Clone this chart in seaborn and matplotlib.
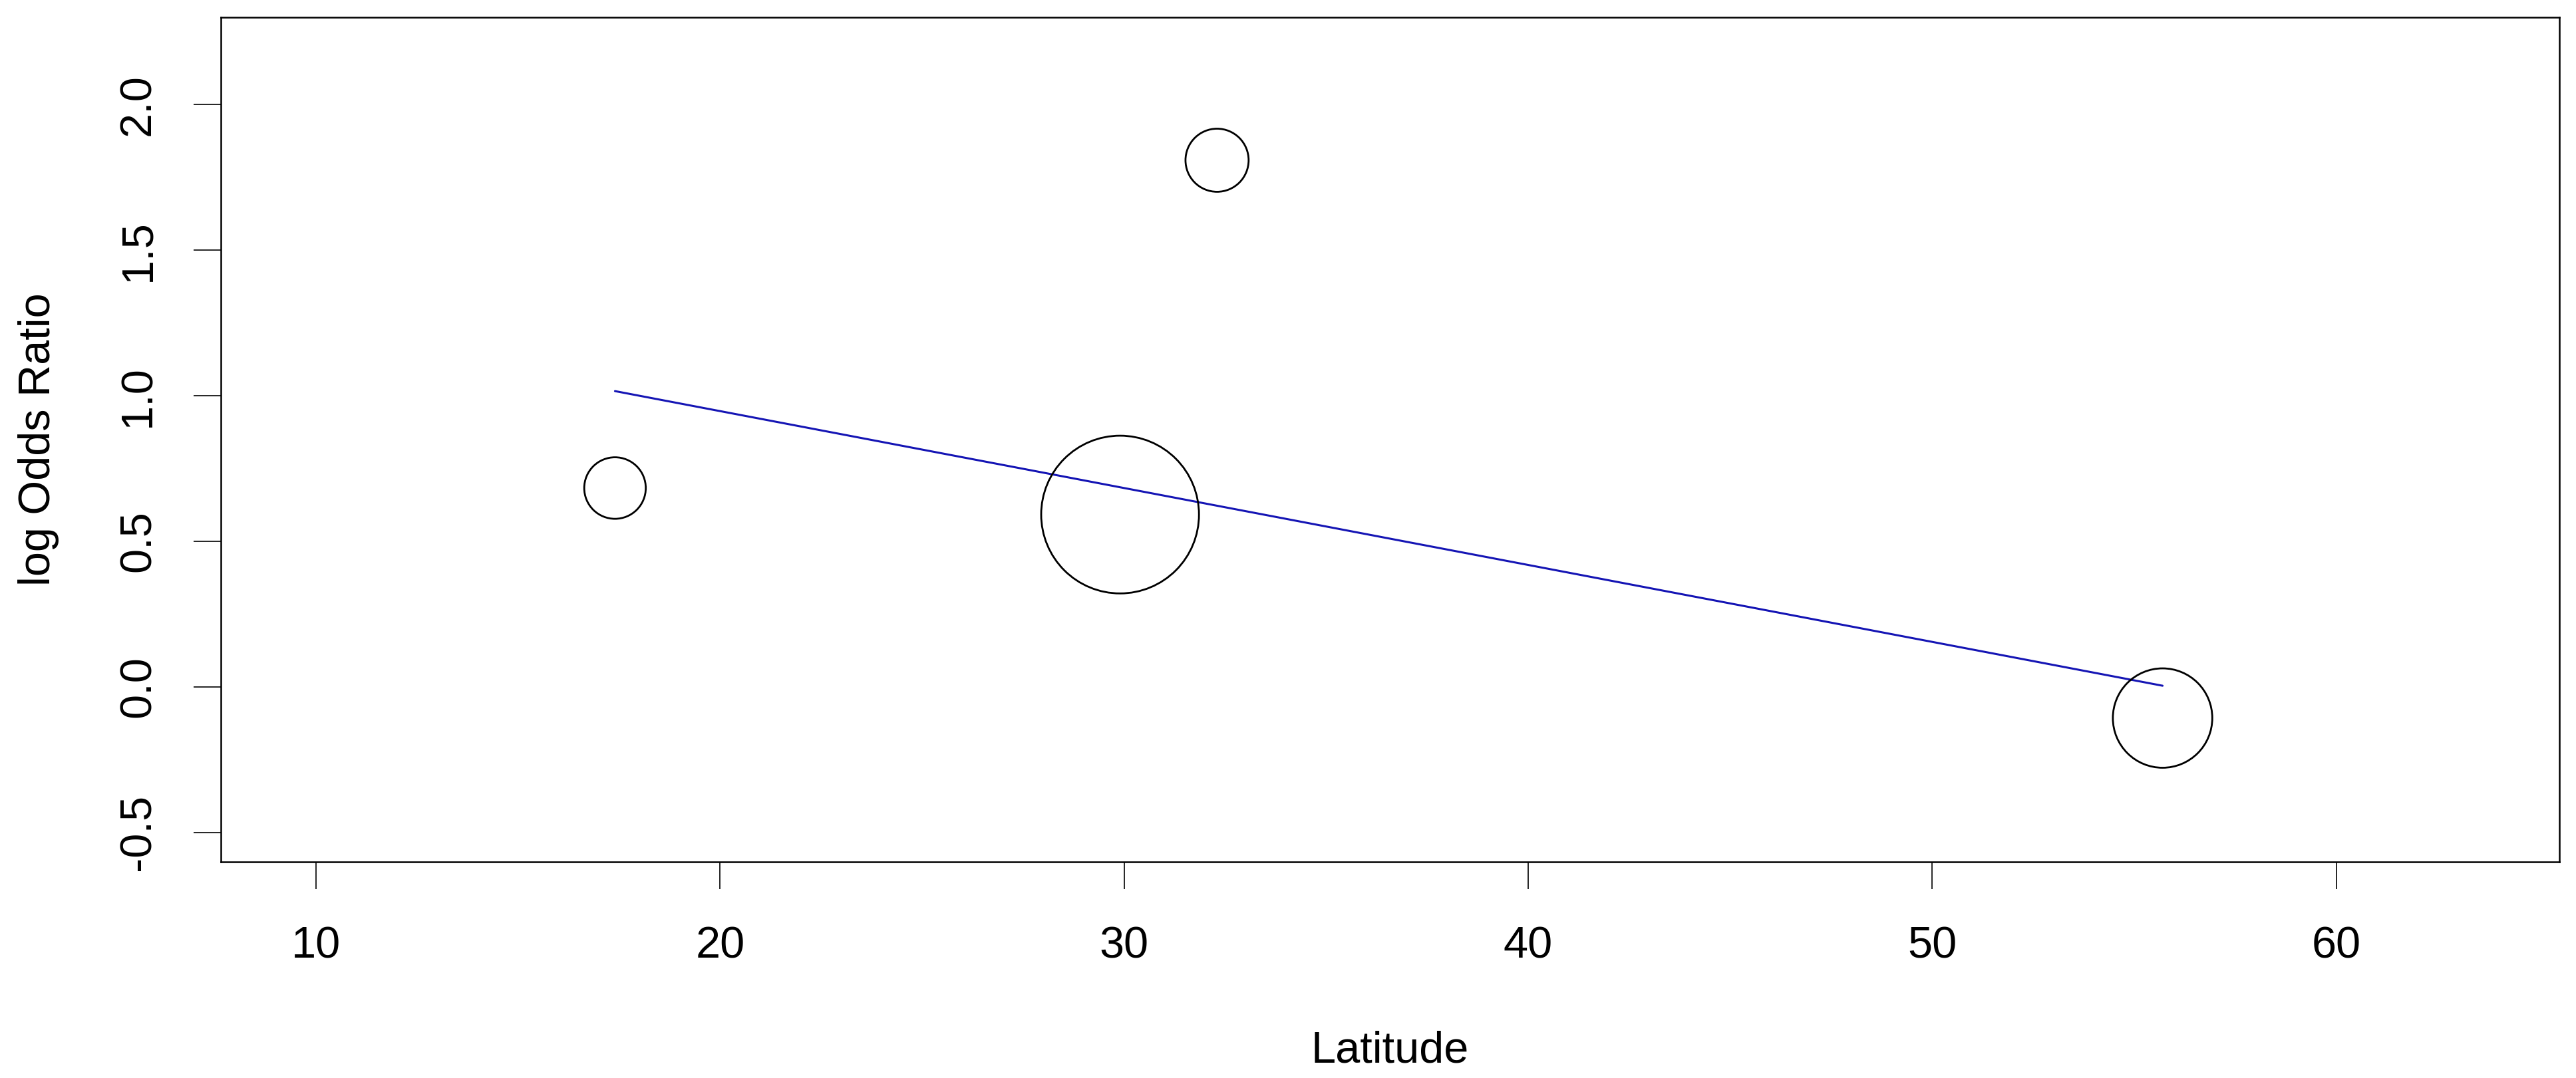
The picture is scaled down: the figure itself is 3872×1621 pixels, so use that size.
import matplotlib
matplotlib.use("Agg")
import matplotlib.pyplot as plt
import seaborn as sns
import numpy as np
import pandas as pd

# ---- data ----
latitude = [17.4, 29.9, 32.3, 55.7]
log_odds = [0.683, 0.592, 1.809, -0.107]
study_weight = [0.39, 1.00, 0.40, 0.63]   # relative circle radius (precision)
fit_x = [17.4, 55.7]
fit_y = [1.016, 0.004]
x_ticks = [10, 20, 30, 40, 50, 60]
y_ticks = [-0.5, 0.0, 0.5, 1.0, 1.5, 2.0]
y_ticklabels = ["-0.5", "0.0", "0.5", "1.0", "1.5", "2.0"]

sns.set_theme(style="white")
plt.rcParams['font.family'] = ['Liberation Sans', 'DejaVu Sans']
plt.rcParams['text.color'] = 'black'
plt.rcParams['axes.labelcolor'] = 'black'
plt.rcParams['xtick.color'] = 'black'
plt.rcParams['ytick.color'] = 'black'

DPI = 200
fig = plt.figure(figsize=(3872 / DPI, 1621 / DPI), dpi=DPI)
ax = fig.add_axes([332 / 3872, 1 - 1296 / 1621, (3847 - 332) / 3872, (1296 - 26) / 1621])

df = pd.DataFrame({"lat": latitude, "lor": log_odds, "w": study_weight})
max_radius_px = 118.6
pt_per_px = 72 / DPI
sizes = [(2 * w * max_radius_px * pt_per_px) ** 2 for w in study_weight]

sns.lineplot(x=fit_x, y=fit_y, ax=ax, color="#1414b4", linewidth=1.1, estimator=None)
sns.scatterplot(data=df, x="lat", y="lor", ax=ax, s=sizes, marker="o",
                facecolors="none", edgecolors="black", linewidths=1.0, zorder=3)

ax.set_xlim(7.646, 65.52)
ax.set_ylim(-0.601, 2.30)

ax.set_xticks(x_ticks)
ax.set_xticklabels([str(t) for t in x_ticks], fontsize=24)
ax.set_yticks(y_ticks)
ax.set_yticklabels(y_ticklabels, fontsize=24, rotation=90, va="center")

ax.tick_params(axis="both", direction="out", length=14.8, width=0.6, color="black",
               labelcolor="black", bottom=True, left=True, top=False, right=False)
ax.tick_params(axis="x", pad=20)
ax.tick_params(axis="y", pad=18.5)

for sp in ax.spines.values():
    sp.set_visible(True)
    sp.set_color("black")
    sp.set_linewidth(0.9)

ax.set_xlabel("Latitude", fontsize=24, va="center", color="black")
ax.set_ylabel("log Odds Ratio", fontsize=24, va="center", color="black")
ax.xaxis.set_label_coords(0.5, -(1580 - 1296) / 1270)
ax.yaxis.set_label_coords((58 - 332) / (3847 - 332), 0.5)
ax.grid(False)

fig.savefig("out.png", dpi=DPI, facecolor="white")
